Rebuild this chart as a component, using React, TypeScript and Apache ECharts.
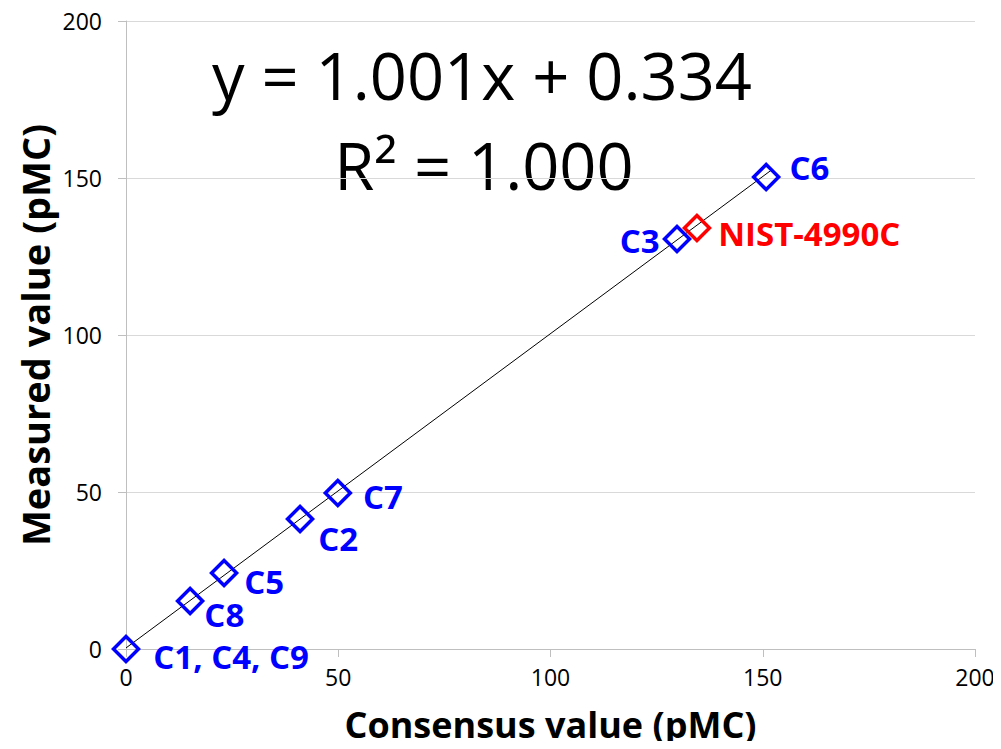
import React, { useEffect, useRef } from "react";
import * as echarts from "echarts";

// Sample names and their consensus (x) / measured (y) values, pMC
const blueNames = ["C1, C4, C9", "C8", "C5", "C2", "C7", "C3", "C6"];
const blueConsensus = [0, 15.1, 23.1, 41.0, 49.9, 129.8, 150.8];
const blueMeasured = [0, 15.3, 24.2, 41.4, 49.7, 130.6, 150.3];

const refName = "NIST-4990C";
const refConsensus = 134.5;
const refMeasured = 134.1;

// Linear fit shown on the chart
const fitSlope = 1.001;
const fitIntercept = 0.334;
const fitR2 = "1.000";
const fitRange = [0, 152];

const xTicks = [0, 50, 100, 150, 200];
const yTicks = [0, 50, 100, 150, 200];

// Label placement per sample: [position, offsetX, offsetY]
const labelPlacement: Record<string, [string, number, number]> = {
  "C1, C4, C9": ["right", 8, 7],
  C8: ["right", -5, 14],
  C5: ["right", 1, 8],
  C2: ["right", -1, 19],
  C7: ["right", 6, 4],
  C3: ["left", 2, 2],
  C6: ["right", 4, -10],
};

const FONT = "'Open Sans', 'Liberation Sans', sans-serif";

export default function App() {
  const ref = useRef<HTMLDivElement>(null);

  useEffect(() => {
    if (!ref.current) return;
    const chart = echarts.init(ref.current, undefined, { renderer: "svg" });

    const blueData = blueNames.map((name, i) => {
      const [pos, ox, oy] = labelPlacement[name];
      return {
        name,
        value: [blueConsensus[i], blueMeasured[i]],
        label: { position: pos as any, offset: [ox, oy] },
      };
    });

    const fitData = fitRange.map((x) => [x, fitSlope * x + fitIntercept]);

    const labelBase = {
      show: true,
      formatter: "{b}",
      fontFamily: FONT,
      fontWeight: "bold" as const,
      fontSize: 33,
      lineHeight: 30,
      distance: 5,
    };

    chart.setOption({
      animation: false,
      backgroundColor: "#ffffff",
      grid: {
        left: 126,
        right: 26,
        top: 21,
        bottom: 100,
        containLabel: false,
        outerBoundsMode: "none",
      },
      xAxis: {
        type: "value",
        min: xTicks[0],
        max: xTicks[xTicks.length - 1],
        interval: 50,
        name: "Consensus value (pMC)",
        nameLocation: "middle",
        nameGap: 55,
        nameMoveOverlap: false,
        nameTextStyle: { fontFamily: FONT, fontWeight: "bold", fontSize: 36, lineHeight: 40, color: "#000" },
        axisLine: { show: true, lineStyle: { color: "#bfbfbf", width: 1 } },
        axisTick: { show: true, length: 8, lineStyle: { color: "#bfbfbf" } },
        axisLabel: { fontFamily: FONT, fontSize: 23, color: "#000", margin: 16 },
        splitLine: { show: false },
      },
      yAxis: {
        type: "value",
        min: yTicks[0],
        max: yTicks[yTicks.length - 1],
        interval: 50,
        name: "Measured value (pMC)",
        nameLocation: "middle",
        nameGap: 72,
        nameMoveOverlap: false,
        nameRotate: 90,
        nameTextStyle: { fontFamily: FONT, fontWeight: "bold", fontSize: 38, color: "#000" },
        axisLine: { show: true, lineStyle: { color: "#bfbfbf", width: 1 } },
        axisTick: { show: true, length: 8, lineStyle: { color: "#bfbfbf" } },
        axisLabel: { fontFamily: FONT, fontSize: 23, color: "#000", margin: 24 },
        splitLine: { show: true, lineStyle: { color: "#d9d9d9", width: 1 } },
      },
      series: [
        {
          type: "line",
          data: fitData,
          symbol: "none",
          lineStyle: { color: "#000", width: 1 },
          z: 1,
          silent: true,
        },
        {
          type: "scatter",
          data: blueData,
          symbol: "diamond",
          symbolSize: 25,
          itemStyle: { color: "rgba(0,0,0,0)", borderColor: "#0000ff", borderWidth: 3.5, opacity: 1 },
          label: { ...labelBase, color: "#0000ff" },
          z: 3,
        },
        {
          type: "scatter",
          data: [
            {
              name: refName,
              value: [refConsensus, refMeasured],
              label: { position: "right", offset: [2, 6] },
            },
          ],
          symbol: "diamond",
          symbolSize: 25,
          itemStyle: { color: "rgba(0,0,0,0)", borderColor: "#ff0000", borderWidth: 3.5, opacity: 1 },
          label: { ...labelBase, color: "#ff0000" },
          z: 4,
        },
      ],
      graphic: [
        {
          type: "text",
          x: 482,
          y: 75,
          style: {
            text: `y = ${fitSlope.toFixed(3)}x + ${fitIntercept.toFixed(3)}`,
            font: `65px ${FONT}`,
            fill: "#000",
            textAlign: "center",
            textVerticalAlign: "middle",
          },
        },
        {
          type: "text",
          x: 484,
          y: 165,
          style: {
            text: `R² = ${fitR2}`,
            font: `65px ${FONT}`,
            fill: "#000",
            textAlign: "center",
            textVerticalAlign: "middle",
          },
        },
      ],
    });

    return () => chart.dispose();
  }, []);

  return <div ref={ref} style={{ width: 1001, height: 749, margin: -8 }} />;
}
